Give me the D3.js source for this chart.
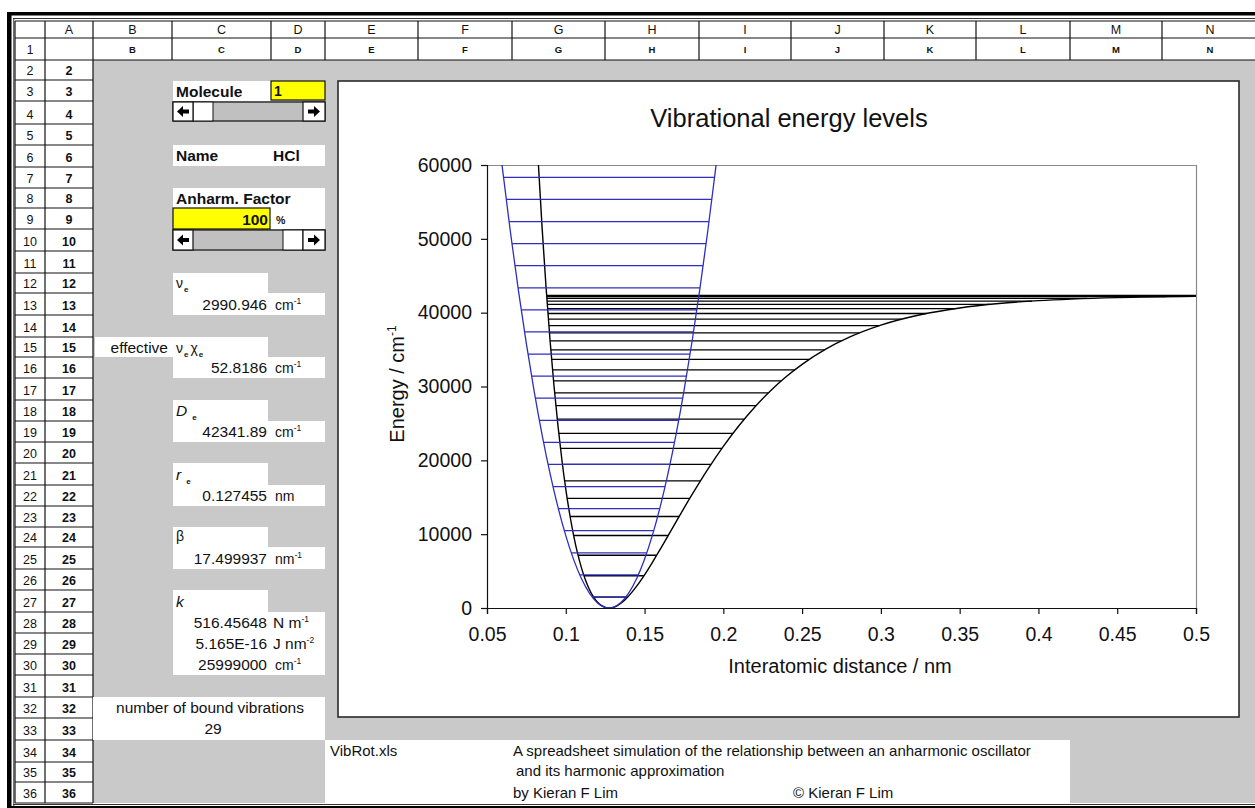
<!DOCTYPE html>
<html>
<head>
<meta charset="utf-8">
<script src="https://cdn.jsdelivr.net/npm/d3@7"></script>
<style>
  body { margin: 0; background: #fff; }
  svg { display: block; }
  text { font-family: "Liberation Sans", Arial, sans-serif; fill: #111; }
</style>
</head>
<body>
<script>
// ---------- chart data ----------
// Morse potential curve (r in nm, energy in cm^-1)
const morseR = [0.0826,0.085,0.0875,0.09,0.0925,0.095,0.0975,0.1,0.1025,0.105,0.1075,0.11,0.1125,0.115,0.1175,
  0.12,0.1225,0.125,0.1275,0.13,0.1325,0.135,0.1375,0.14,0.145,0.15,0.155,0.16,0.17,0.18,0.19,0.2,0.21,0.22,0.23,
  0.24,0.25,0.265,0.28,0.3,0.325,0.35,0.375,0.4,0.45,0.5];
const morseE = [60193,51420,43371,36307,30133,24760,20107,16108,12697,9813,7395,5405,3788,2511,1533,
  823,348,82,0,80,302,648,1100,1645,2960,4500,6194,7983,11673,15310,18743,21892,24724,27236,29437,
  31352,33005,35057,36677,38308,39714,40635,41236,41626,42043,42217];

// harmonic potential curve
const harmR = [0.0595,0.065,0.07,0.075,0.08,0.085,0.09,0.095,0.1,0.105,0.11,0.115,0.12,0.125,0.1275,
  0.13,0.135,0.14,0.145,0.15,0.155,0.16,0.165,0.17,0.175,0.18,0.185,0.19,0.195,0.1955];
const harmE = [60030,50705,42913,35768,29275,23430,18237,13693,9799,6555,3961,2017,722,78,0,
  84,740,2046,4002,6607,9863,13769,18324,23530,29385,35892,43047,50853,59308,60189];

// anharmonic (Morse) vibrational levels v = 0..28 with their classical turning points
const morseLevelE = [1482,4368,7147,9821,12390,14852,17210,19461,21607,23647,25582,27411,29134,30752,32264,
  33670,34971,36166,37255,38239,39117,39890,40557,41118,41574,41924,42168,42307,42340];
const morseLevelLeft = [0.1177,0.1115,0.1078,0.1050,0.1028,0.1009,0.0993,0.0979,0.0967,0.0956,0.0946,0.0937,
  0.0929,0.0922,0.0916,0.0910,0.0905,0.0901,0.0897,0.0893,0.0890,0.0887,0.0885,0.0883,0.0881,0.0880,0.0879,0.0879,0.0879];
const morseLevelRight = [0.1393,0.1496,0.1577,0.1650,0.1719,0.1787,0.1854,0.1922,0.1991,0.2061,0.2133,0.2208,
  0.2285,0.2367,0.2453,0.2545,0.2643,0.2749,0.2864,0.2990,0.3131,0.3290,0.3474,0.3691,0.3959,0.4309,0.4812,0.5725,0.7416];

// harmonic levels v = 0..19
const harmLevelE = [1495,4486,7477,10468,13459,16450,19441,22432,25423,28414,31405,34396,37387,40378,43369,
  46360,49351,52342,55333,58323];
const harmLevelLeft = [0.1167,0.1089,0.1035,0.0991,0.0953,0.0919,0.0888,0.0859,0.0832,0.0807,0.0783,0.0760,
  0.0738,0.0717,0.0697,0.0677,0.0658,0.0640,0.0622,0.0605];
const harmLevelRight = [0.1382,0.1460,0.1514,0.1558,0.1596,0.1630,0.1661,0.1690,0.1717,0.1742,0.1766,0.1789,
  0.1811,0.1832,0.1852,0.1872,0.1891,0.1909,0.1927,0.1944];

// axis ticks
const xTicks = [0.05,0.1,0.15,0.2,0.25,0.3,0.35,0.4,0.45,0.5];
const xTickLabels = ["0.05","0.1","0.15","0.2","0.25","0.3","0.35","0.4","0.45","0.5"];
const yTicks = [0,10000,20000,30000,40000,50000,60000];
const yTickLabels = ["0","10000","20000","30000","40000","50000","60000"];

// ---------- sheet layout ----------
const W = 1255, H = 808;
const rowY = [21,38,60,80,101,124,145,167,188,208,229,251,273,293,315,337,357,378,400,421,442,463,485,506,527,547,
  569,590,612,633,654,675,697,718,740,762,782,803];
const colX = [15,45,93,172,271,325,418,512,605,699,791,884,976,1070,1162,1258];
const colNames = ["","A","B","C","D","E","F","G","H","I","J","K","L","M","N"];
const GRAY = "#c9c9c9";
const BLUE = "#2f2fbd";

const svg = d3.select("body").append("svg").attr("width", W).attr("height", H);

function box(x0, y0, x1, y1, fill, stroke, sw) {
  return svg.append("rect").attr("x", x0).attr("y", y0)
    .attr("width", x1 - x0).attr("height", y1 - y0)
    .attr("fill", fill || "none").attr("stroke", stroke || "none").attr("stroke-width", sw || 1);
}
function hline(x0, x1, yy, col, sw) {
  svg.append("line").attr("x1", x0).attr("x2", x1).attr("y1", yy).attr("y2", yy)
    .attr("stroke", col || "#111").attr("stroke-width", sw || 1);
}
function vline(xx, y0, y1, col, sw) {
  svg.append("line").attr("x1", xx).attr("x2", xx).attr("y1", y0).attr("y2", y1)
    .attr("stroke", col || "#111").attr("stroke-width", sw || 1);
}
function label(x, y, s, o = {}) {
  return svg.append("text").attr("x", x).attr("y", y)
    .attr("font-size", o.size || 15.5)
    .attr("font-weight", o.bold ? "bold" : null)
    .attr("font-style", o.italic ? "italic" : null)
    .attr("text-anchor", o.anchor || "start")
    .text(s);
}
// subscript / superscript helpers
function addSub(t, s, dx) {
  t.append("tspan").attr("dx", dx || 1).attr("dy", 4).attr("font-size", 8).attr("font-weight", "bold").attr("font-style", "normal").text(s);
  return t;
}
function unitText(x, y, base, sup) {
  const t = label(x, y, base, { size: 14 });
  if (sup) t.append("tspan").attr("dy", -6).attr("font-size", 8.5).text(sup);
  return t;
}

// gray worksheet body
box(93, 60, W, 803, GRAY);

// header + row 1 grid
for (let i = 0; i < colNames.length; i++) {
  const cx = (colX[i] + colX[i + 1]) / 2;
  if (colNames[i]) label(cx, 34, colNames[i], { size: 12.5, anchor: "middle" });
  if (i === 0) label(cx, 54, "1", { size: 12, anchor: "middle" });
  else if (i > 1) label(cx, 53, colNames[i], { size: 9.5, bold: true, anchor: "middle" });
}
colX.forEach(xx => vline(xx, 21, 60, "#111", 1.2));
[21, 38, 60].forEach(yy => hline(15, W, yy, "#111", 1.2));

// row-number columns
for (let r = 2; r <= 36; r++) {
  const y1 = rowY[r + 1];
  label(30, y1 - 5, String(r), { size: 12.5, anchor: "middle" });
  label(69, y1 - 5, String(r), { size: 12.5, bold: true, anchor: "middle" });
  hline(15, 93, y1, "#111", 1.2);
}
[15, 45, 93].forEach(xx => vline(xx, 60, 803, "#111", 1.2));

// outer frame
box(7, 12, W, 15.5, "#000");
box(7, 12, 11.5, 808, "#000");
hline(13, W, 18.5, "#333", 1);
vline(13.8, 18, 808, "#333", 1);
hline(13, W, 804.5, "#333", 1);
box(7, 806, W, 808, "#000");

// ---------- control panel ----------
// Molecule selector
box(173, 81, 271, 101, "#fff");
box(271, 81, 325, 100, "#ffff00", "#111", 1.2);
label(176, 97, "Molecule", { bold: true });
label(274, 96, "1", { size: 14, bold: true });

function arrow(cx, cy, dir) {
  const s = dir;
  svg.append("path")
    .attr("d", `M${cx - 6 * s},${cy} L${cx},${cy - 5.5} L${cx},${cy - 2} L${cx + 6 * s},${cy - 2} L${cx + 6 * s},${cy + 2} L${cx},${cy + 2} L${cx},${cy + 5.5} Z`)
    .attr("fill", "#000");
}
function scrollbar(y0, y1, thumb0, thumb1) {
  box(173, y0, 325, y1, "#c0c0c0", "#111", 1.2);
  box(thumb0, y0, thumb1, y1, "#fff", "#111", 1);
  box(173, y0, 193, y1, "#fff", "#111", 1.2);
  box(303, y0, 325, y1, "#fff", "#111", 1.2);
  arrow(183, (y0 + y1) / 2, 1);
  arrow(314, (y0 + y1) / 2, -1);
}
scrollbar(102, 121, 193, 213);

// Name
box(173, 145, 325, 166, "#fff");
label(176, 161, "Name", { bold: true });
label(273, 161, "HCl", { bold: true });

// Anharmonicity factor
box(173, 188, 325, 229, "#fff");
label(176, 204, "Anharm. Factor", { bold: true });
box(173, 208, 270, 229, "#ffff00", "#111", 1.2);
label(268, 225, "100", { bold: true, anchor: "end" });
label(276, 224, "%", { size: 10.5, bold: true });
scrollbar(230, 250, 283, 303);

// derived parameters
const paramValues = ["2990.946", "52.8186", "42341.89", "0.127455", "17.499937"];
const paramUnits = [["cm", "-1"], ["cm", "-1"], ["cm", "-1"], ["nm", ""], ["nm", "-1"]];
const paramRows = [12, 15, 18, 21, 24];

paramRows.forEach((r, i) => {
  const yl0 = rowY[r], yl1 = rowY[r + 1], yv1 = rowY[r + 2];
  box(r === 15 ? 95 : 173, yl0, 268, yl1, "#fff");
  box(173, yl1, 325, yv1, "#fff");
  label(267, yv1 - 5, paramValues[i], { size: 15.5, anchor: "end" });
  unitText(275, yv1 - 5, paramUnits[i][0], paramUnits[i][1]);
});

// parameter names
addSub(label(176, rowY[13] - 5, "ν", { size: 14 }), "e", 1);
label(168, rowY[16] - 4, "effective", { size: 15.5, anchor: "end" });
{
  const t = label(176, rowY[16] - 4, "ν", { size: 14 });
  addSub(t, "e", 1);
  t.append("tspan").attr("dx", 2).attr("dy", -4).attr("font-size", 14).text("χ");
  addSub(t, "e", 1);
}
addSub(label(176, rowY[19] - 5, "D", { size: 15.5, italic: true }), "e", 5);
addSub(label(176, rowY[22] - 5, "r", { size: 15.5, italic: true }), "e", 5);
label(176, rowY[25] - 6, "β", { size: 14 });

// force constant k
box(173, rowY[27], 268, rowY[28], "#fff");
box(173, rowY[28], 325, rowY[31], "#fff");
label(176, rowY[28] - 5, "k", { size: 15.5, italic: true });
const kValues = ["516.45648", "5.165E-16", "25999000"];
const kUnits = [["N m", "-1"], ["J nm", "-2"], ["cm", "-1"]];
kValues.forEach((v, i) => {
  const yb = rowY[29 + i] - 5;
  label(267, yb, v, { size: 15.5, anchor: "end" });
  unitText(i === 2 ? 275 : 273, yb, kUnits[i][0], kUnits[i][1]).attr("font-size", i === 2 ? 14 : 15.5);
});

// bound vibrations
box(93, rowY[32], 325, rowY[34], "#fff");
label(210, rowY[33] - 5, "number of bound vibrations", { size: 15.5, anchor: "middle" });
label(213, rowY[34] - 6, "29", { size: 15.5, anchor: "middle" });

// footer notes
box(325, rowY[34], 1070, 803, "#fff");
label(330, rowY[35] - 6, "VibRot.xls", { size: 15 });
label(513, rowY[35] - 6, "A spreadsheet simulation of the relationship between an anharmonic oscillator", { size: 15 });
label(516, rowY[36] - 6, "and its harmonic approximation", { size: 15 });
label(513, rowY[37] - 5, "by Kieran F Lim", { size: 15 });
label(793, rowY[37] - 5, "© Kieran F Lim", { size: 15 });

// ---------- chart ----------
box(338, 81, 1239, 717, "#fff", "#2a2a2a", 1.6);

const x = d3.scaleLinear().domain([0.05, 0.5]).range([487, 1196]);
const y = d3.scaleLinear().domain([0, 60000]).range([608, 165]);

svg.append("defs").append("clipPath").attr("id", "plotClip")
  .append("rect").attr("x", 487).attr("y", 165).attr("width", 1196 - 487).attr("height", 608 - 165);

// plot-area frame (top and right)
hline(487, 1196, 165.5, "#8a8a8a", 1.2);
vline(1196.5, 165, 608, "#8a8a8a", 1.2);

const plot = svg.append("g").attr("clip-path", "url(#plotClip)");
const curve = d3.line().x(d => x(d[0])).y(d => y(d[1])).curve(d3.curveMonotoneX);
const seg = d3.line().x(d => x(d[0])).y(d => y(d[1]));

// Morse levels
plot.selectAll("path.mlev").data(morseLevelE).join("path").attr("class", "mlev")
  .attr("d", (e, i) => seg([[morseLevelLeft[i], e], [morseLevelRight[i], e]]))
  .attr("fill", "none").attr("stroke", "#000").attr("stroke-width", 1.3);
// Morse potential
plot.append("path").attr("d", curve(morseR.map((r, i) => [r, morseE[i]])))
  .attr("fill", "none").attr("stroke", "#000").attr("stroke-width", 1.4);

// harmonic levels
plot.selectAll("path.hlev").data(harmLevelE).join("path").attr("class", "hlev")
  .attr("d", (e, i) => seg([[harmLevelLeft[i], e], [harmLevelRight[i], e]]))
  .attr("fill", "none").attr("stroke", BLUE).attr("stroke-width", 1.2);
// harmonic potential
plot.append("path").attr("d", curve(harmR.map((r, i) => [r, harmE[i]])))
  .attr("fill", "none").attr("stroke", BLUE).attr("stroke-width", 1.3);

// axes
const gy = svg.append("g").attr("transform", "translate(487,0)")
  .call(d3.axisLeft(y).tickValues(yTicks).tickFormat((d, i) => yTickLabels[i]).tickSize(6).tickPadding(9));
const gx = svg.append("g").attr("transform", "translate(0,608)")
  .call(d3.axisBottom(x).tickValues(xTicks).tickFormat((d, i) => xTickLabels[i]).tickSize(6).tickPadding(13));
[gx, gy].forEach(g => {
  g.attr("font-size", 19.5).attr("font-family", "'Liberation Sans', Arial, sans-serif").attr("color", "#111");
  g.selectAll("path,line").attr("stroke", "#111").attr("stroke-width", 1.2);
});

// titles
label(789, 127, "Vibrational energy levels", { size: 25.5, anchor: "middle" });
label(840, 673, "Interatomic distance / nm", { size: 20, anchor: "middle" });
{
  const t = svg.append("text").attr("transform", "translate(404,384) rotate(-90)")
    .attr("text-anchor", "middle").attr("font-size", 20).text("Energy / cm");
  t.append("tspan").attr("dy", -8).attr("font-size", 12).text("-1");
}
</script>
</body>
</html>
